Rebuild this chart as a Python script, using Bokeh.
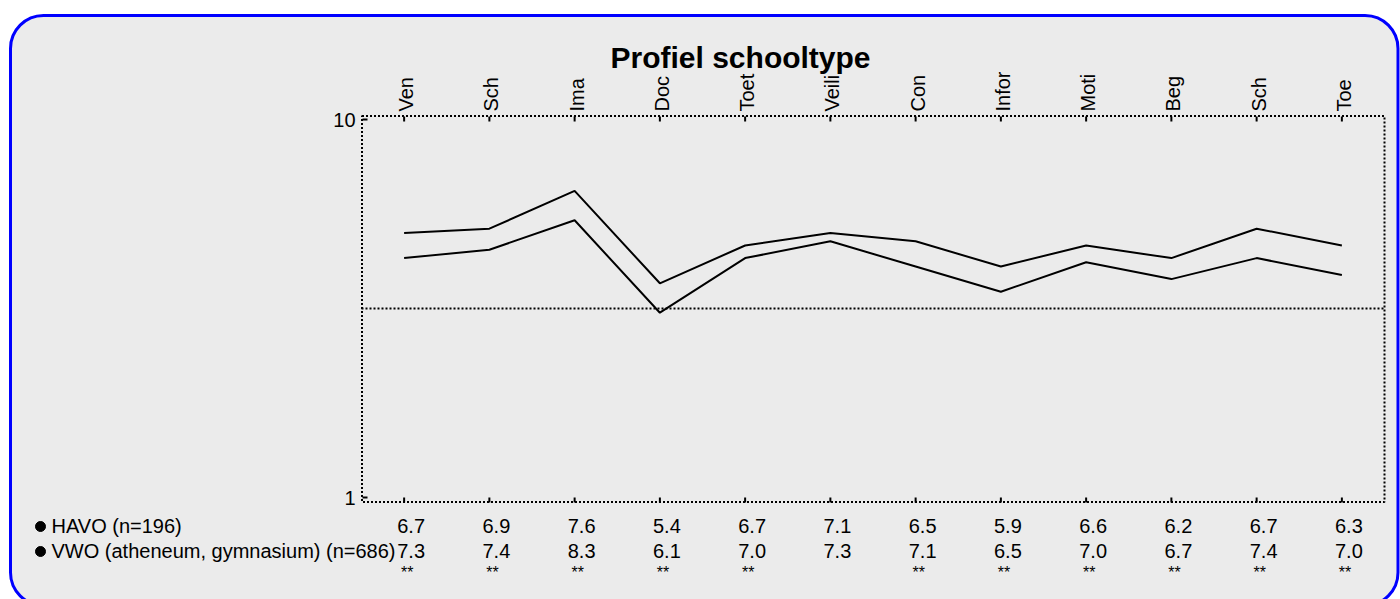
import math
from bokeh.plotting import figure
from bokeh.models import Range1d, ColumnDataSource
from bokeh.core.properties import value
from bokeh.embed import file_html
from bokeh.resources import INLINE

# ---------------- data ----------------
categories = ["Ven", "Sch", "Ima", "Doc", "Toet", "Veili", "Con", "Infor", "Moti", "Beg", "Sch", "Toe"]
havo = [6.7, 6.9, 7.6, 5.4, 6.7, 7.1, 6.5, 5.9, 6.6, 6.2, 6.7, 6.3]
vwo = [7.3, 7.4, 8.3, 6.1, 7.0, 7.3, 7.1, 6.5, 7.0, 6.7, 7.4, 7.0]
stars = ["**", "**", "**", "**", "**", "", "**", "**", "**", "**", "**", "**"]
series_names = ["HAVO (n=196)", "VWO (atheneum, gymnasium) (n=686)"]
title_text = "Profiel schooltype"
y_ticks = [1, 10]
y_tick_labels = ["1", "10"]
reference_value = 5.5

# ---------------- layout (pixels) ----------------
W, H = 1400, 599
FONT = "Liberation Sans"
GRAY = "#ebebeb"
n = len(categories)
xs = list(range(n))
BASE_FIX = -8  # baseline correction for alphabetic text placement

# data -> pixel anchoring of the plot area
X0_PX, X1_PX = 361.0, 1384.0      # x = -0.5 ... n-0.5
Y1_PX, Y10_PX = 497.0, 119.0      # y = 1 ... 10
ppx = (X1_PX - X0_PX) / n
ppy = (Y1_PX - Y10_PX) / 9.0
x_start = -0.5 - X0_PX / ppx
x_end = (n - 0.5) + (W - X1_PX) / ppx
y_start = 1 - (H - Y1_PX) / ppy
y_end = 10 + Y10_PX / ppy

p = figure(width=W, height=H,
           x_range=Range1d(x_start, x_end), y_range=Range1d(y_start, y_end),
           output_backend="svg", toolbar_location=None,
           min_border=0, min_border_left=0, min_border_right=0,
           min_border_top=0, min_border_bottom=0)
p.extra_x_ranges = {"px": Range1d(0, W)}
p.extra_y_ranges = {"py": Range1d(H, 0)}
p.axis.visible = False
p.xgrid.visible = False
p.ygrid.visible = False
p.outline_line_color = None
p.background_fill_color = "white"
p.border_fill_color = "white"

# rounded panel
p.quad(left=[10], right=[1397.5], top=[15], bottom=[605],
       x_range_name="px", y_range_name="py",
       fill_color=GRAY, line_color="blue", line_width=3, border_radius=33)

# plot box (dotted)
p.quad(left=[361.5], right=[1384], top=[115.5], bottom=[501.5],
       x_range_name="px", y_range_name="py",
       fill_color=None, line_color="black", line_width=2, line_dash="2 2")

# reference line
p.segment(x0=[-0.5], x1=[n - 0.5], y0=[reference_value], y1=[reference_value],
          line_color="black", line_width=2, line_dash="2 2")

# x ticks (top and bottom), inward
p.segment(x0=xs, x1=xs, y0=[116] * n, y1=[121] * n, y_range_name="py",
          line_color="black", line_width=2)
p.segment(x0=xs, x1=xs, y0=[497] * n, y1=[502] * n, y_range_name="py",
          line_color="black", line_width=2)
# y ticks
p.segment(x0=[362] * len(y_ticks), x1=[367] * len(y_ticks), y0=y_ticks, y1=y_ticks,
          x_range_name="px", line_color="black", line_width=2)

# y tick labels
p.text(x=[355] * len(y_ticks), y=y_ticks, text=y_tick_labels, x_range_name="px",
       text_align="right", text_baseline="middle", text_font=value(FONT),
       text_font_size=value("20px"), text_color="black")

# category labels (vertical)
cat_src = ColumnDataSource(dict(x=xs, y=[111] * n, t=categories))
p.text(x="x", y="y", text="t", source=cat_src, y_range_name="py",
       angle=math.pi / 2, text_align="left", text_baseline="middle", x_offset=2,
       text_font=value(FONT), text_font_size=value("20px"), text_color="black")

# data lines
p.line(xs, havo, line_color="black", line_width=2)
p.line(xs, vwo, line_color="black", line_width=2)

# title
p.text(x=[610], y=[65 + BASE_FIX], text=[title_text], x_range_name="px", y_range_name="py",
       text_align="left", text_baseline="alphabetic", text_font=value(FONT),
       text_font_style="bold", text_font_size=value("30px"), text_color="black")

# table rows
tab = ColumnDataSource(dict(
    x=xs,
    havo=[f"{v:.1f}" for v in havo],
    vwo=[f"{v:.1f}" for v in vwo],
    stars=stars,
    y1=[533 + BASE_FIX] * n, y2=[558 + BASE_FIX] * n, y3=[580 + BASE_FIX] * n,
))
for col, ycol, size, off in (("havo", "y1", "20px", 7), ("vwo", "y2", "20px", 7),
                             ("stars", "y3", "16px", 3)):
    p.text(x="x", y=ycol, text=col, source=tab, y_range_name="py", x_offset=off,
           text_align="center", text_baseline="alphabetic", text_font=value(FONT),
           text_font_size=value(size), text_color="black")

# legend names with bullets
p.scatter(x=[40, 40], y=[526, 551], size=10, marker="circle", color="black",
          x_range_name="px", y_range_name="py")
p.text(x=[51, 51], y=[533 + BASE_FIX, 558 + BASE_FIX], text=series_names,
       x_range_name="px", y_range_name="py",
       text_align="left", text_baseline="alphabetic", text_font=value(FONT),
       text_font_size=value("20px"), text_color="black")

open("out.html", "w").write(file_html(p, INLINE))
